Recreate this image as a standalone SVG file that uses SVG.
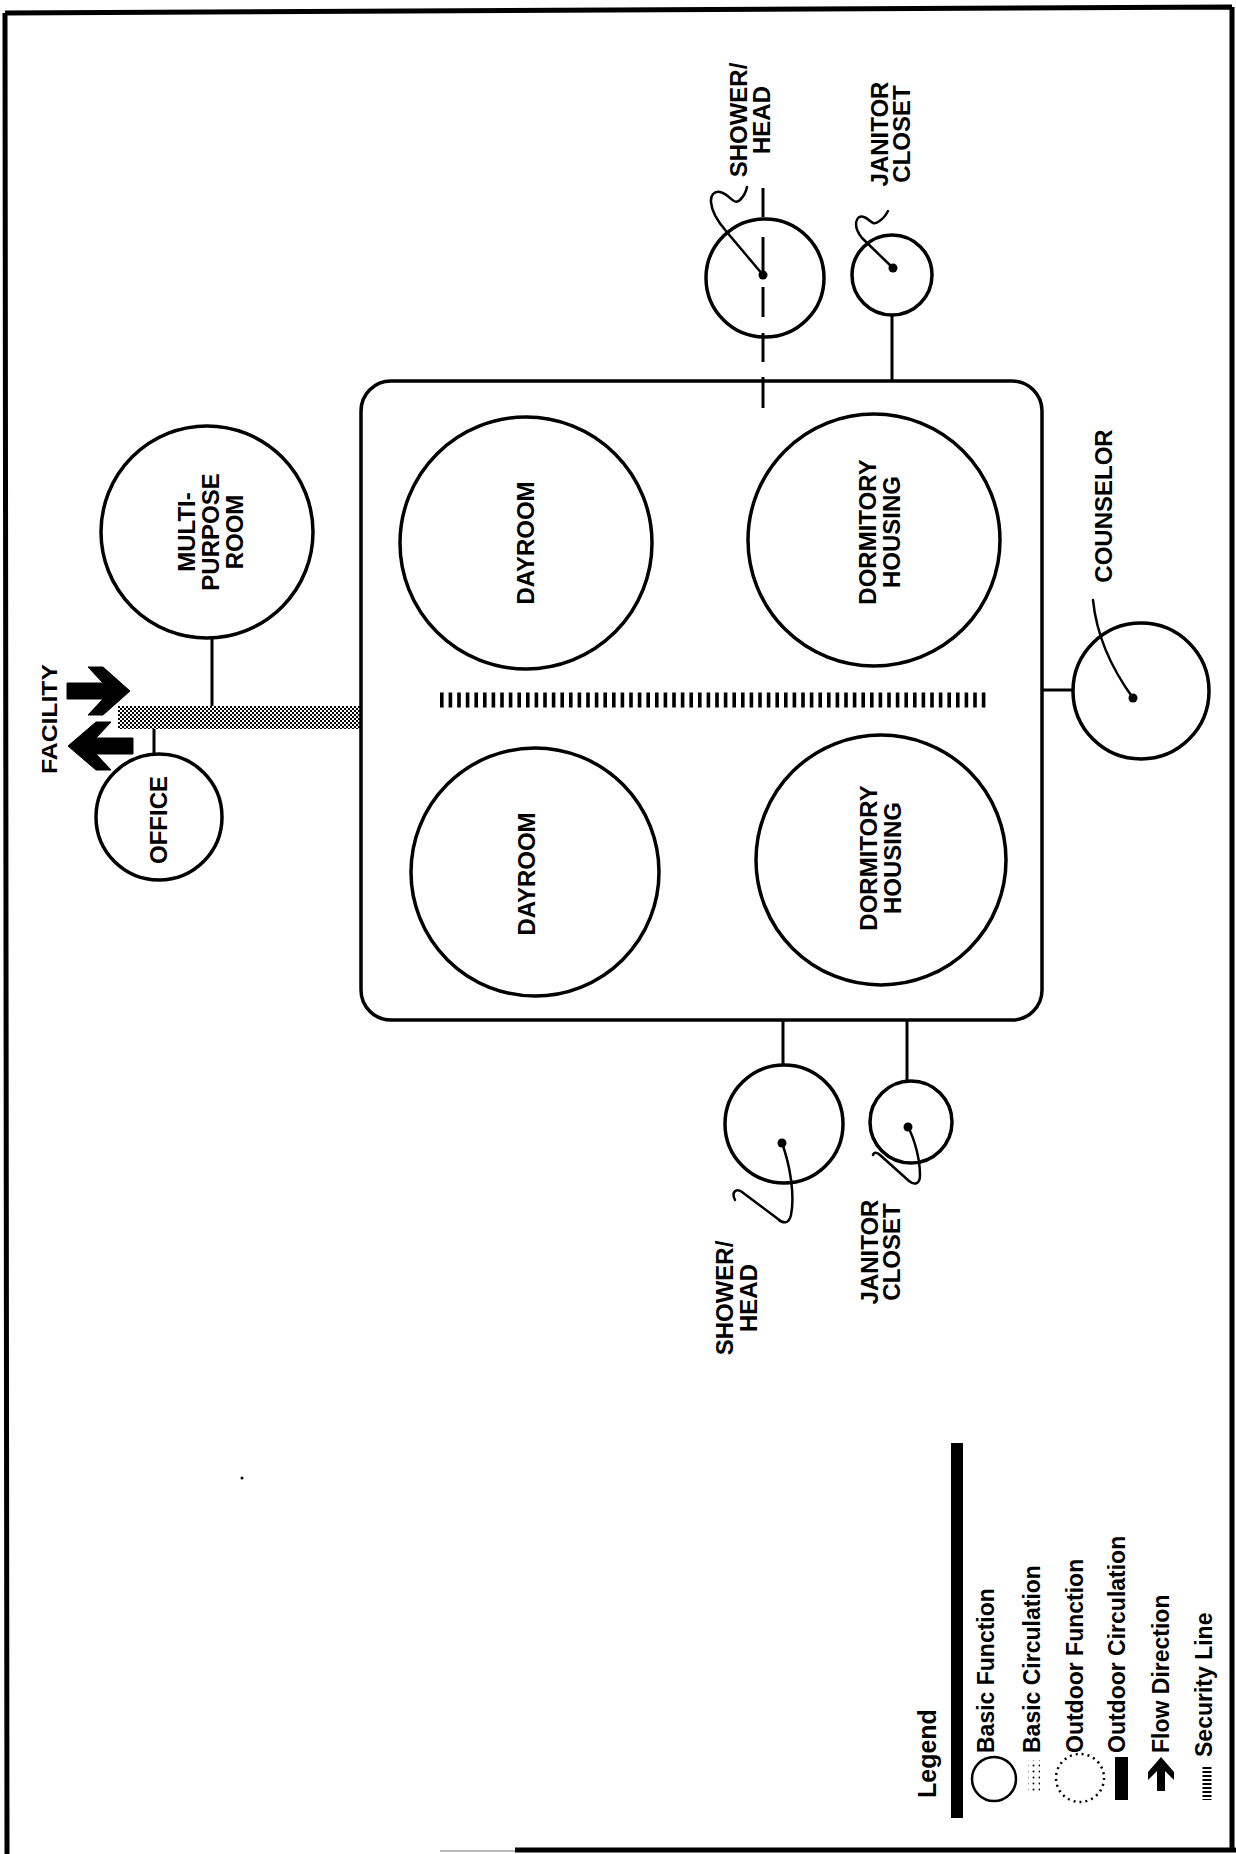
<svg xmlns="http://www.w3.org/2000/svg" width="1236" height="1854" viewBox="0 0 1236 1854">
<style>
.lbl{font-family:"Liberation Sans",Arial,sans-serif;font-weight:bold;font-size:24px;text-anchor:middle;fill:#000}
.leg{font-family:"Liberation Sans",Arial,sans-serif;font-weight:bold;font-size:23px;fill:#000}
.node{fill:none;stroke:#000;stroke-width:3.5}
.conn{fill:none;stroke:#000;stroke-width:3}
.lead{fill:none;stroke:#000;stroke-width:2.5;stroke-linecap:round;stroke-linejoin:round}
.frame{fill:none;stroke:#000;stroke-width:5}
.arrow{fill:#000;stroke:#000;stroke-width:1;stroke-linejoin:round}
</style>
<defs>
<pattern id="stipple" width="4" height="4" patternUnits="userSpaceOnUse">
<rect width="4" height="4" fill="#fff"/>
<rect x="0" y="0" width="2" height="2" fill="#000"/>
<rect x="2" y="2" width="2" height="2" fill="#000"/>
</pattern>
<pattern id="sparse" width="6" height="6" patternUnits="userSpaceOnUse">
<rect width="6" height="6" fill="#fff"/>
<circle cx="1.5" cy="1.5" r="1" fill="#000"/>
</pattern>
</defs>
<rect width="1236" height="1854" fill="#fff"/>
<g id="frame">
<path class="frame" d="M5,13 L1232,7 M5,13 L7,1854 M1232,7 L1232,1850 M515,1850 L1236,1850"/>
<path d="M440,1851 L515,1851" stroke="#bbb" stroke-width="2"/>
<circle cx="242" cy="1478" r="1.5" fill="#000"/>
</g>
<g id="connectors">
<rect x="118" y="706" width="243" height="23" fill="url(#stipple)"/>
<path class="conn" d="M212,638 L212,706"/>
<path class="conn" d="M154,729 L154,754"/>
<path class="conn" d="M892,315 L892,381"/>
<path class="conn" stroke-width="3.5" d="M763,188 L763,217 M763,237 L763,275 M763,287 L763,317 M763,333 L763,362 M763,377 L763,408"/>
<path class="conn" d="M783,1020 L783,1065"/>
<path class="conn" d="M907,1020 L907,1081"/>
<path class="conn" d="M1042,690 L1073,690"/>
<path class="arrow" d="M67,683 L103,683 L88,667 L103,667 L130,691 L103,715 L88,715 L103,699 L67,699 Z"/>
<path class="arrow" d="M133,738 L96,738 L111,722 L96,722 L68,746 L96,770 L111,770 L96,754 L133,754 Z"/>
<line x1="440" y1="700" x2="988" y2="700" stroke="#000" stroke-width="15" stroke-dasharray="3.6 5"/>
</g>
<g id="housing-unit">
<rect x="361" y="381" width="681" height="639" rx="30" ry="30" class="node" stroke-width="4"/>
</g>
<g id="facility-label">
<text class="lbl" transform="translate(0,719) rotate(-90)" style="font-size:22px"><tspan x="0" y="57" textLength="110" lengthAdjust="spacingAndGlyphs">FACILITY</tspan></text>
</g>
<g id="office">
<circle class="node" cx="159" cy="817" r="63"/>
<text class="lbl" transform="translate(0,820) rotate(-90)"><tspan x="0" y="167">OFFICE</tspan></text>
</g>
<g id="multipurpose">
<circle class="node" cx="207" cy="532" r="106"/>
<text class="lbl" transform="translate(0,532) rotate(-90)"><tspan x="0" y="195">MULTI-</tspan><tspan x="0" y="219">PURPOSE</tspan><tspan x="0" y="243">ROOM</tspan></text>
</g>
<g id="dayroom-1">
<circle class="node" cx="526" cy="543" r="126"/>
<text class="lbl" transform="translate(0,543) rotate(-90)"><tspan x="0" y="534">DAYROOM</tspan></text>
</g>
<g id="dormitory-1">
<circle class="node" cx="874" cy="540" r="126"/>
<text class="lbl" transform="translate(0,532) rotate(-90)"><tspan x="0" y="876">DORMITORY</tspan><tspan x="0" y="900">HOUSING</tspan></text>
</g>
<g id="dayroom-2">
<circle class="node" cx="535" cy="872" r="124"/>
<text class="lbl" transform="translate(0,874) rotate(-90)"><tspan x="0" y="535">DAYROOM</tspan></text>
</g>
<g id="dormitory-2">
<circle class="node" cx="881" cy="860" r="125"/>
<text class="lbl" transform="translate(0,858) rotate(-90)"><tspan x="0" y="877">DORMITORY</tspan><tspan x="0" y="901">HOUSING</tspan></text>
</g>
<g id="shower-1">
<circle class="node" cx="765" cy="278" r="59"/>
<circle cx="763" cy="275" r="4.5" fill="#000"/>
<path class="lead" d="M763,275 L726,231 C706,208 708,190 720,192 C730,194 733,206 740,200 C744,196 746,192 747,187"/>
<text class="lbl" transform="translate(0,120) rotate(-90)"><tspan x="0" y="747">SHOWER/</tspan><tspan x="0" y="770">HEAD</tspan></text>
</g>
<g id="janitor-1">
<circle class="node" cx="892" cy="275" r="40"/>
<circle cx="893" cy="268" r="4.5" fill="#000"/>
<path class="lead" d="M893,268 L862,238 C852,226 856,214 864,217 C870,219 872,226 878,222 C883,219 886,215 888,211"/>
<text class="lbl" transform="translate(0,134) rotate(-90)"><tspan x="0" y="888">JANITOR</tspan><tspan x="0" y="910">CLOSET</tspan></text>
</g>
<g id="counselor">
<circle class="node" cx="1141" cy="691" r="68"/>
<circle cx="1133" cy="698" r="4.5" fill="#000"/>
<path class="lead" d="M1133,698 Q1098,650 1093,600"/>
<text class="lbl" transform="translate(0,506) rotate(-90)"><tspan x="0" y="1112">COUNSELOR</tspan></text>
</g>
<g id="shower-2">
<circle class="node" cx="784" cy="1124" r="59"/>
<circle cx="782" cy="1143" r="4.5" fill="#000"/>
<path class="lead" d="M782,1143 C790,1165 795,1195 791,1215 C789,1224 783,1224 778,1219 L742,1192 C736,1188 731,1192 735,1200"/>
<text class="lbl" transform="translate(0,1298) rotate(-90)"><tspan x="0" y="733">SHOWER/</tspan><tspan x="0" y="757">HEAD</tspan></text>
</g>
<g id="janitor-2">
<circle class="node" cx="911" cy="1122" r="41"/>
<circle cx="908" cy="1127" r="4.5" fill="#000"/>
<path class="lead" d="M908,1127 C915,1140 920,1160 920,1175 C920,1185 914,1185 909,1181 L880,1155 C877,1152 874,1152 873,1155"/>
<text class="lbl" transform="translate(0,1252) rotate(-90)"><tspan x="0" y="878">JANITOR</tspan><tspan x="0" y="900">CLOSET</tspan></text>
</g>
<g id="legend">
<rect x="951" y="1443" width="12" height="375" fill="#000"/>
<text class="leg" style="font-size:25px" transform="translate(0,1798) rotate(-90)"><tspan x="0" y="936">Legend</tspan></text>
<circle cx="994" cy="1779" r="22" fill="none" stroke="#000" stroke-width="2.5"/>
<rect x="1028" y="1760" width="12" height="33" fill="url(#sparse)"/>
<circle cx="1080" cy="1778" r="24" fill="none" stroke="#000" stroke-width="2.5" stroke-dasharray="2 4"/>
<rect x="1115" y="1757" width="13" height="43" fill="#000"/>
<path d="M1161,1757 L1174,1772 L1174,1780 L1165,1771 L1165,1791 L1157,1791 L1157,1771 L1148,1780 L1148,1772 Z" fill="#000"/>
<line x1="1207" y1="1767" x2="1207" y2="1800" stroke="#000" stroke-width="9" stroke-dasharray="2 2"/>
<text class="leg" transform="translate(0,1753) rotate(-90)"><tspan x="0" y="994">Basic Function</tspan></text>
<text class="leg" transform="translate(0,1753) rotate(-90)"><tspan x="0" y="1040">Basic Circulation</tspan></text>
<text class="leg" transform="translate(0,1753) rotate(-90)"><tspan x="0" y="1083">Outdoor Function</tspan></text>
<text class="leg" transform="translate(0,1753) rotate(-90)"><tspan x="0" y="1125">Outdoor Circulation</tspan></text>
<text class="leg" transform="translate(0,1753) rotate(-90)"><tspan x="0" y="1169">Flow Direction</tspan></text>
<text class="leg" transform="translate(0,1757) rotate(-90)"><tspan x="0" y="1212">Security Line</tspan></text>
</g>
</svg>
